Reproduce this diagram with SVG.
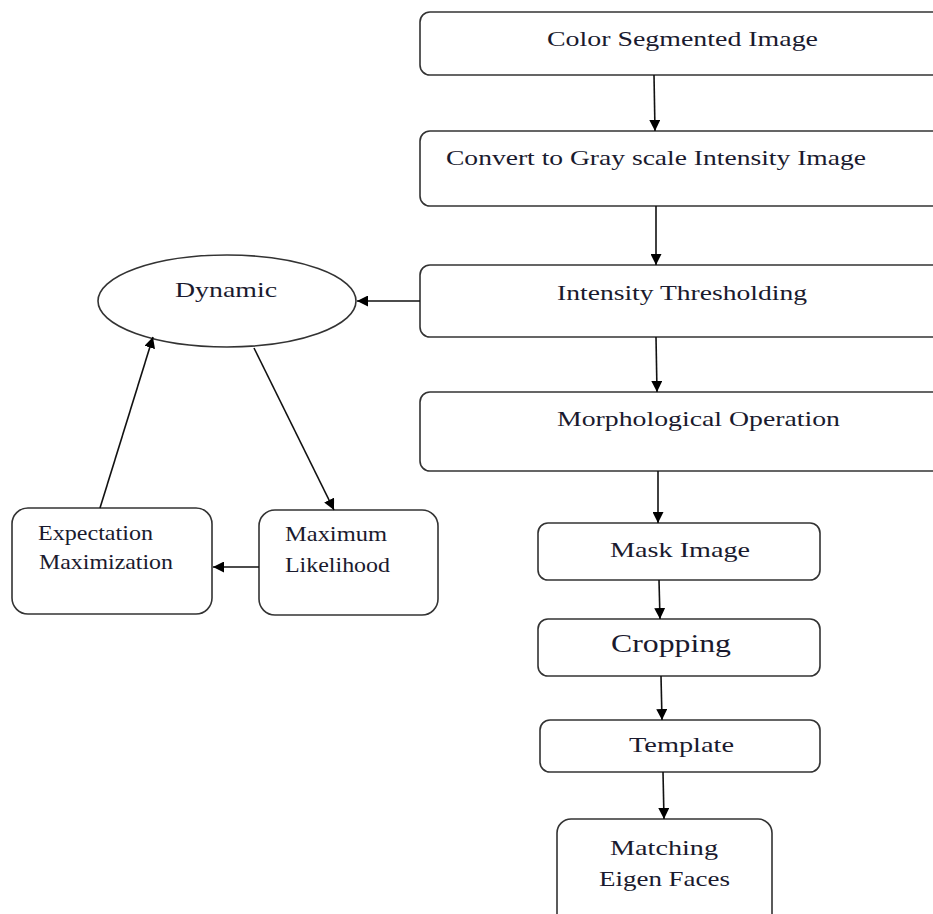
<svg xmlns="http://www.w3.org/2000/svg" width="933" height="914" viewBox="0 0 933 914">
<style>
.box{fill:#fff;stroke:#333;stroke-width:1.6}
.t{font-family:"Liberation Serif","Times New Roman",serif;font-size:22px;fill:#1a1a2e}
.c{stroke:#111;stroke-width:1.6;fill:none}
</style>
<defs>
<marker id="ah" viewBox="0 0 10 10" refX="10" refY="5" markerWidth="11" markerHeight="11" markerUnits="userSpaceOnUse" orient="auto">
<path d="M0,0 L10,5 L0,10 z" fill="#000"/>
</marker>
</defs>
<rect width="933" height="914" fill="#fff"/>
<g id="n1"><rect class="box" x="420" y="12" width="530" height="63" rx="10"/><text class="t" x="547" y="46" textLength="271" lengthAdjust="spacingAndGlyphs">Color Segmented Image</text></g>
<g id="n2"><rect class="box" x="420" y="131" width="530" height="75" rx="10"/><text class="t" x="446" y="165" textLength="420" lengthAdjust="spacingAndGlyphs">Convert to Gray scale Intensity Image</text></g>
<g id="n3"><rect class="box" x="420" y="265" width="530" height="72" rx="10"/><text class="t" x="557" y="300" textLength="250" lengthAdjust="spacingAndGlyphs">Intensity Thresholding</text></g>
<g id="n4"><rect class="box" x="420" y="392" width="530" height="79" rx="10"/><text class="t" x="557" y="426" textLength="283" lengthAdjust="spacingAndGlyphs">Morphological Operation</text></g>
<g id="n5"><rect class="box" x="538" y="523" width="282" height="57" rx="10"/><text class="t" x="610" y="557" textLength="140" lengthAdjust="spacingAndGlyphs">Mask Image</text></g>
<g id="n6"><rect class="box" x="538" y="619" width="282" height="57" rx="10"/><text class="t" x="611" y="652" textLength="120" lengthAdjust="spacingAndGlyphs" style="font-size:26px">Cropping</text></g>
<g id="n7"><rect class="box" x="540" y="720" width="280" height="52" rx="10"/><text class="t" x="629" y="752" textLength="105" lengthAdjust="spacingAndGlyphs">Template</text></g>
<g id="n8"><rect class="box" x="557" y="819" width="215" height="110" rx="14"/><text class="t" x="610" y="855" textLength="108" lengthAdjust="spacingAndGlyphs">Matching</text><text class="t" x="599" y="886" textLength="131" lengthAdjust="spacingAndGlyphs">Eigen Faces</text></g>
<g id="n9"><ellipse class="box" cx="227" cy="301" rx="129" ry="46"/><text class="t" x="175" y="297" textLength="102" lengthAdjust="spacingAndGlyphs">Dynamic</text></g>
<g id="n10"><rect class="box" x="12" y="508" width="200" height="106" rx="16"/><text class="t" x="38" y="540" textLength="115" lengthAdjust="spacingAndGlyphs">Expectation</text><text class="t" x="39" y="569" textLength="134" lengthAdjust="spacingAndGlyphs">Maximization</text></g>
<g id="n11"><rect class="box" x="259" y="510" width="179" height="105" rx="16"/><text class="t" x="285" y="541" textLength="102" lengthAdjust="spacingAndGlyphs">Maximum</text><text class="t" x="285" y="572" textLength="105" lengthAdjust="spacingAndGlyphs">Likelihood</text></g>
<g id="connectors">
<line class="c" x1="654" y1="75" x2="655" y2="131" marker-end="url(#ah)"/>
<line class="c" x1="656" y1="206" x2="656" y2="265" marker-end="url(#ah)"/>
<line class="c" x1="656" y1="337" x2="657" y2="392" marker-end="url(#ah)"/>
<line class="c" x1="658" y1="471" x2="658" y2="523" marker-end="url(#ah)"/>
<line class="c" x1="659" y1="580" x2="660" y2="619" marker-end="url(#ah)"/>
<line class="c" x1="661" y1="676" x2="662" y2="720" marker-end="url(#ah)"/>
<line class="c" x1="663" y1="772" x2="664" y2="819" marker-end="url(#ah)"/>
<line class="c" x1="420" y1="301" x2="357" y2="301" marker-end="url(#ah)"/>
<line class="c" x1="100" y1="508" x2="153" y2="337" marker-end="url(#ah)"/>
<line class="c" x1="254" y1="348" x2="334" y2="510" marker-end="url(#ah)"/>
<line class="c" x1="259" y1="567" x2="213" y2="567" marker-end="url(#ah)"/>
</g>
</svg>
